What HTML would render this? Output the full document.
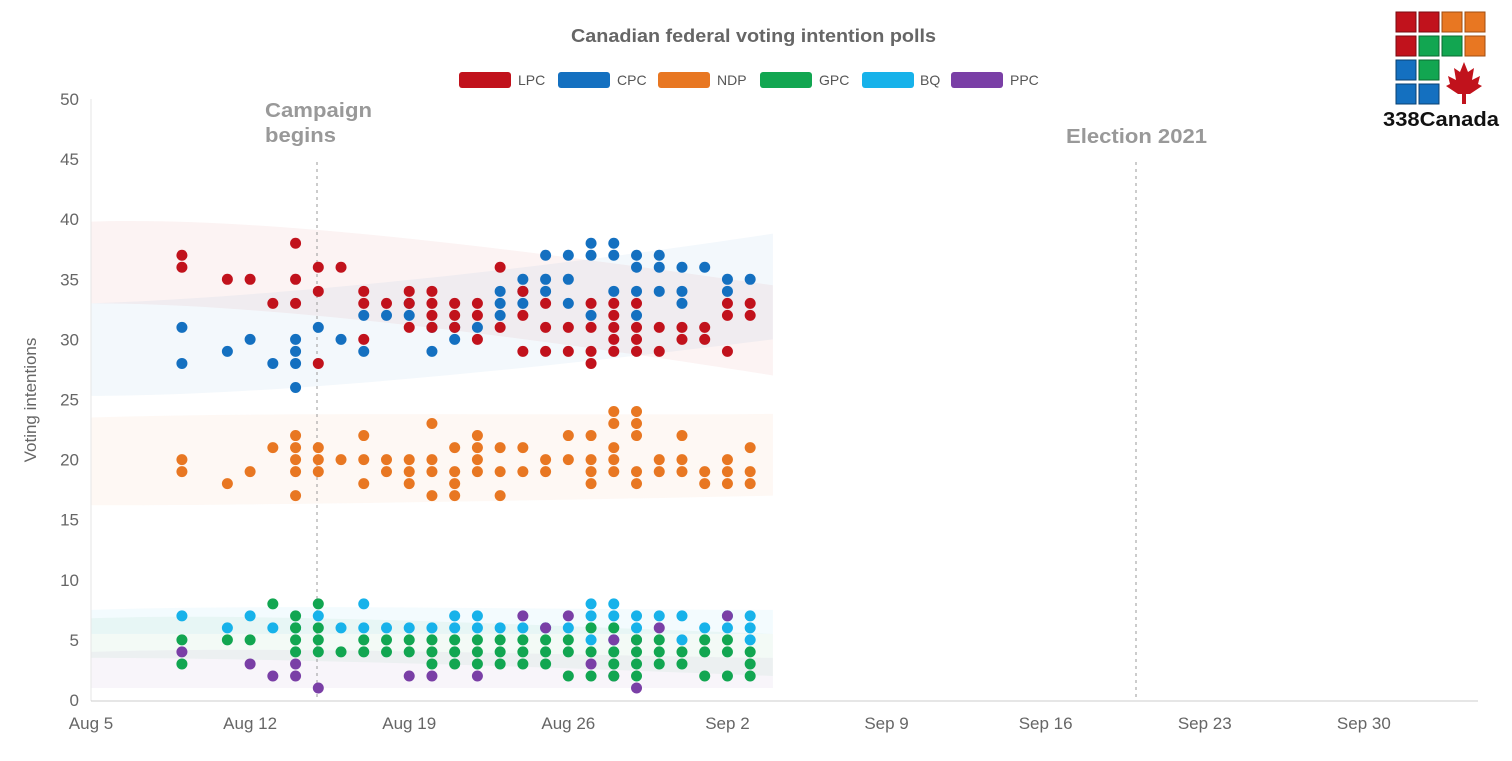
<!DOCTYPE html>
<html><head><meta charset="utf-8"><style>
body{margin:0;background:#fff;width:1512px;height:756px;overflow:hidden;font-family:"Liberation Sans",sans-serif}
</style></head><body>
<svg id="s" width="1512" height="756" xmlns="http://www.w3.org/2000/svg" font-family="Liberation Sans, sans-serif">
<text x="571" y="42" textLength="365" lengthAdjust="spacingAndGlyphs" font-size="18" font-weight="bold" fill="#666">Canadian federal voting intention polls</text>
<g font-size="14" fill="#555">
<rect x="459" y="72" width="52" height="16" rx="3" fill="#c1121c"/><text x="518" y="85">LPC</text>
<rect x="558" y="72" width="52" height="16" rx="3" fill="#1470c0"/><text x="617" y="85">CPC</text>
<rect x="658" y="72" width="52" height="16" rx="3" fill="#e87722"/><text x="717" y="85">NDP</text>
<rect x="760" y="72" width="52" height="16" rx="3" fill="#12a651"/><text x="819" y="85">GPC</text>
<rect x="862" y="72" width="52" height="16" rx="3" fill="#17b2ea"/><text x="920" y="85">BQ</text>
<rect x="951" y="72" width="52" height="16" rx="3" fill="#7a3fa6"/><text x="1010" y="85">PPC</text>
</g>
<g id="bands"></g>
<line x1="91" y1="99" x2="91" y2="701" stroke="#e6e6e6"/>
<line x1="91" y1="701" x2="1478" y2="701" stroke="#ccc"/>
<line x1="317" y1="162" x2="317" y2="700" stroke="#999" stroke-dasharray="3,4"/>
<line x1="1136" y1="162" x2="1136" y2="700" stroke="#999" stroke-dasharray="3,4"/>
<text x="265" y="117" textLength="107" lengthAdjust="spacingAndGlyphs" font-size="20" font-weight="bold" fill="#999">Campaign</text>
<text x="265" y="142" textLength="71" lengthAdjust="spacingAndGlyphs" font-size="20" font-weight="bold" fill="#999">begins</text>
<text x="1066" y="143" textLength="141" lengthAdjust="spacingAndGlyphs" font-size="20" font-weight="bold" fill="#999">Election 2021</text>
<text transform="translate(36,400) rotate(-90)" text-anchor="middle" font-size="17" fill="#666">Voting intentions</text>
<g id="ax" font-size="17" fill="#666"></g>
<g id="dots"></g>
<g transform="translate(1396,12)">
<rect x="0" y="0" width="20" height="20" fill="#c1121c" stroke="#7a0a10"/><rect x="23" y="0" width="20" height="20" fill="#c1121c" stroke="#7a0a10"/><rect x="46" y="0" width="20" height="20" fill="#e87722" stroke="#a04d10"/><rect x="69" y="0" width="20" height="20" fill="#e87722" stroke="#a04d10"/>
<rect x="0" y="24" width="20" height="20" fill="#c1121c" stroke="#7a0a10"/><rect x="23" y="24" width="20" height="20" fill="#12a651" stroke="#0a6a30"/><rect x="46" y="24" width="20" height="20" fill="#12a651" stroke="#0a6a30"/><rect x="69" y="24" width="20" height="20" fill="#e87722" stroke="#a04d10"/>
<rect x="0" y="48" width="20" height="20" fill="#1470c0" stroke="#0a4070"/><rect x="23" y="48" width="20" height="20" fill="#12a651" stroke="#0a6a30"/>
<rect x="0" y="72" width="20" height="20" fill="#1470c0" stroke="#0a4070"/><rect x="23" y="72" width="20" height="20" fill="#1470c0" stroke="#0a4070"/>
<path d="M68 50 L72 60 L78 56 L76 68 L84 64 L82 72 L86 74 L74 82 L70 82 L70 92 L66 92 L66 82 L62 82 L50 74 L54 72 L52 64 L60 68 L58 56 L64 60 Z" fill="#c1121c"/>
<text x="-13" y="114" textLength="116" lengthAdjust="spacingAndGlyphs" font-size="20" font-weight="bold" fill="#111">338Canada</text>
</g>
</svg>
<script>
var NS="http://www.w3.org/2000/svg";
function X(d){return 91+d*22.73}function Y(v){return 700-v*12.02}
function el(p,t,a,txt){var e=document.createElementNS(NS,t);for(var k in a)e.setAttribute(k,a[k]);if(txt)e.textContent=txt;document.getElementById(p).appendChild(e);return e}
for(var v=0;v<=50;v+=5)el("ax","text",{x:79,y:Y(v)+6,"text-anchor":"end"},String(v));
var lab=["Aug 5","Aug 12","Aug 19","Aug 26","Sep 2","Sep 9","Sep 16","Sep 23","Sep 30"];
lab.forEach(function(l,i){el("ax","text",{x:X(i*7),y:729,"text-anchor":"middle"},l)});
function band(c,lo0,hi0,lo1,hi1){var x0=X(0),x1=X(30);
el("bands","path",{d:"M"+x0+" "+Y(hi0)+" C"+X(8)+" "+Y(hi0+0.5)+" "+X(20)+" "+Y((hi0+hi1)/2)+" "+x1+" "+Y(hi1)+" L"+x1+" "+Y(lo1)+" C"+X(20)+" "+Y((lo0+lo1)/2)+" "+X(8)+" "+Y(lo0)+" "+x0+" "+Y(lo0)+"Z",fill:c,"fill-opacity":0.05})}
band("#c1121c",33,39.8,27,34.5);band("#1470c0",25.3,33,30,38.8);band("#e87722",16.2,23.5,17,23.8);
band("#17b2ea",5.5,7.5,5.5,7.5);band("#12a651",3.5,6.8,2,5.5);band("#7a3fa6",1,4,1,3.5);
var C={L:"#c1121c",C:"#1470c0",N:"#e87722",G:"#12a651",B:"#17b2ea",P:"#7a3fa6"};
var D=[
[4,{L:[37,36],C:[31,28],N:[20,19],G:[5,3],B:[7],P:[4]}],
[6,{L:[35],C:[29],N:[18],G:[5],B:[6]}],
[7,{L:[35],C:[30],N:[19],G:[5],B:[7],P:[3]}],
[8,{L:[33],C:[28],N:[21],G:[8],B:[6],P:[2]}],
[9,{L:[38,35,33],C:[30,29,28,26],N:[22,21,20,19,17],G:[7,6,5,4],B:[6],P:[3,2]}],
[10,{L:[36,34,28],C:[31],N:[21,20,19],G:[8,6,5,4],B:[7],P:[1]}],
[11,{L:[36],C:[30],N:[20],G:[4],B:[6]}],
[12,{L:[34,33,30],C:[32,29],N:[22,20,18],G:[5,4],B:[8,6]}],
[13,{L:[33],C:[32],N:[20,19],G:[5,4],B:[6]}],
[14,{L:[34,33,31],C:[33,32],N:[20,19,18],G:[5,4],B:[6],P:[2]}],
[15,{L:[34,33,32,31],C:[31,29],N:[23,20,19,17],G:[5,4,3],B:[6],P:[2]}],
[16,{L:[33,32,31],C:[31,30],N:[21,19,18,17],G:[5,4,3],B:[7,6]}],
[17,{L:[33,32,30],C:[31],N:[22,21,20,19],G:[5,4,3],B:[7,6],P:[2]}],
[18,{L:[36,31],C:[34,33,32],N:[21,19,17],G:[5,4,3],B:[6]}],
[19,{L:[34,32,29],C:[35,34,33],N:[21,19],G:[5,4,3],B:[6],P:[7]}],
[20,{L:[33,31,29],C:[37,35,34],N:[20,19],G:[5,4,3],B:[6],P:[6]}],
[21,{L:[31,29],C:[37,35,33],N:[22,20],G:[5,4,2],B:[6],P:[7]}],
[22,{L:[33,31,29,28],C:[38,37,32],N:[22,20,19,18],G:[6,4,2],B:[8,7,5],P:[3]}],
[23,{L:[33,32,31,30,29],C:[38,37,34],N:[24,23,21,20,19],G:[6,4,3,2],B:[8,7,5],P:[5,2]}],
[24,{L:[33,31,30,29],C:[37,36,34,32],N:[24,23,22,19,18],G:[5,4,3,2],B:[7,6],P:[1,5]}],
[25,{L:[31,29],C:[37,36,34],N:[20,19],G:[5,4,3],B:[7],P:[6]}],
[26,{L:[31,30],C:[36,34,33],N:[22,20,19],G:[4,3],B:[7,5]}],
[27,{L:[31,30],C:[36],N:[19,18],G:[5,4,2],B:[6]}],
[28,{L:[33,32,29],C:[35,34],N:[20,19,18],G:[5,4,2],B:[7,6],P:[7]}],
[29,{L:[33,32],C:[35],N:[21,19,18],G:[4,3,2],B:[7,6,5]}]];
["B","P","G","N","C","L"].forEach(function(k){D.forEach(function(r){(r[1][k]||[]).forEach(function(v){el("dots","circle",{cx:X(r[0]),cy:Y(v),r:5.5,fill:C[k]})})})});
</script>
</body></html>
